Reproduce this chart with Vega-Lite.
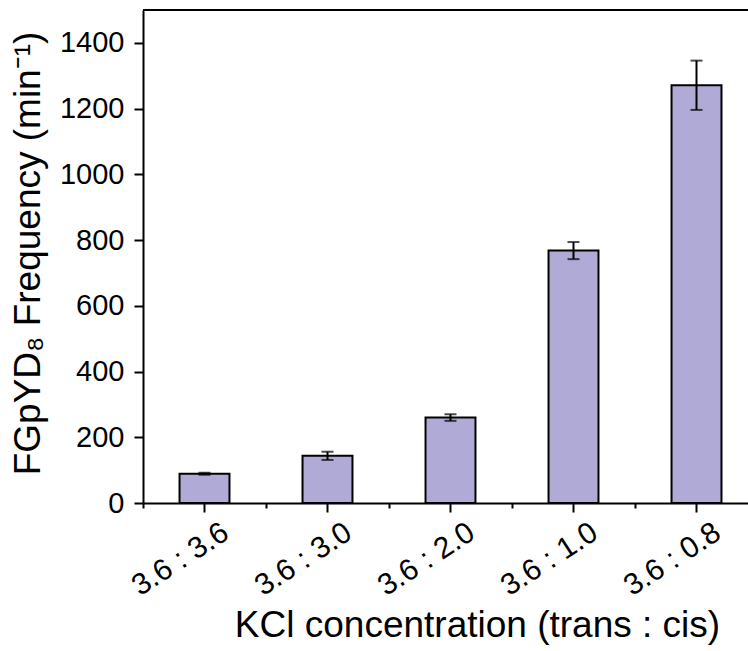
{
  "$schema": "https://vega.github.io/schema/vega-lite/v6.json",
  "width": 605,
  "height": 493,
  "autosize": {"type": "none"},
  "padding": {"left": 143, "top": 10, "right": 0, "bottom": 148},
  "background": "white",
  "config": {
    "font": "Liberation Sans",
    "view": {"stroke": null},
    "axis": {
      "labelFont": "Liberation Sans",
      "titleFont": "Liberation Sans",
      "labelColor": "black",
      "titleColor": "black",
      "domainColor": "black",
      "tickColor": "black",
      "domainWidth": 2,
      "tickWidth": 2,
      "grid": false,
      "titleFontWeight": "normal"
    }
  },
  "data": {
    "values": [
      {"ratio": "3.6 : 3.6", "freq": 89, "lo": 86, "hi": 92},
      {"ratio": "3.6 : 3.0", "freq": 144, "lo": 131, "hi": 156},
      {"ratio": "3.6 : 2.0", "freq": 260, "lo": 250, "hi": 270},
      {"ratio": "3.6 : 1.0", "freq": 768, "lo": 742, "hi": 794},
      {"ratio": "3.6 : 0.8", "freq": 1271, "lo": 1196, "hi": 1346}
    ]
  },
  "layer": [
    {
      "mark": {"type": "bar", "fill": "#b0aad6", "stroke": "black", "strokeWidth": 2, "width": {"band": 0.406}},
      "encoding": {
        "x": {
          "field": "ratio", "type": "nominal", "sort": null,
          "scale": {"range": [0, 615], "paddingInner": 0, "paddingOuter": 0},
          "axis": {
            "orient": "bottom",
            "title": "KCl concentration (trans : cis)",
            "titleFontSize": 37,
            "titleX": 334,
            "titleY": 133,
            "titleAlign": "center",
            "titleBaseline": "alphabetic",
            "labelFontSize": 30,
            "labelAngle": -33,
            "labelAlign": "center",
            "labelBaseline": "middle",
            "labelPadding": 47,
            "labelOffset": -24,
            "tickSize": 9
          }
        },
        "y": {
          "field": "freq", "type": "quantitative",
          "scale": {"domain": [0, 1500], "nice": false},
          "axis": {
            "title": "FGpYD₈ Frequency (min⁻¹)",
            "titleFontSize": 37,
            "titleX": -115,
            "titleY": 243,
            "titleAngle": -90,
            "titleAlign": "center",
            "titleBaseline": "middle",
            "values": [0, 100, 200, 300, 400, 500, 600, 700, 800, 900, 1000, 1100, 1200, 1300, 1400],
            "labelExpr": "datum.value % 200 === 0 ? datum.label : ''",
            "format": "d",
            "labelFontSize": 29,
            "labelPadding": 10,
            "tickSize": {"condition": {"test": "datum.value % 200 === 0", "value": 9}, "value": 5}
          }
        }
      }
    },
    {
      "mark": {"type": "rule", "strokeWidth": 2, "color": "black"},
      "encoding": {
        "x": {
          "field": "ratio", "type": "nominal", "sort": null,
          "axis": {"orient": "bottom", "title": null, "labels": false, "tickBand": "extent", "tickSize": 5, "domain": false}
        },
        "y": {"field": "lo", "type": "quantitative"},
        "y2": {"field": "hi"}
      }
    },
    {
      "mark": {"type": "tick", "orient": "horizontal", "size": 12, "thickness": 2, "color": "black"},
      "encoding": {
        "x": {"field": "ratio", "type": "nominal", "sort": null, "axis": null},
        "y": {"field": "lo", "type": "quantitative"}
      }
    },
    {
      "mark": {"type": "tick", "orient": "horizontal", "size": 12, "thickness": 2, "color": "black"},
      "encoding": {
        "x": {"field": "ratio", "type": "nominal", "sort": null, "axis": null},
        "y": {"field": "hi", "type": "quantitative"}
      }
    },
    {
      "mark": {"type": "rule", "color": "black", "strokeWidth": 2},
      "encoding": {"y": {"datum": 1500}}
    }
  ],
  "resolve": {"axis": {"x": "independent"}}
}
